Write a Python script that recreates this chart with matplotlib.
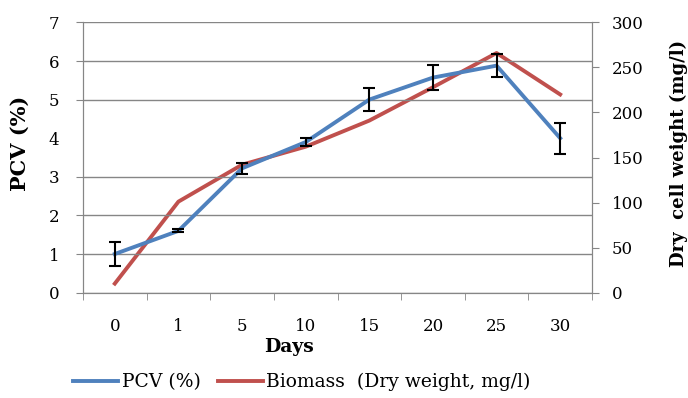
import numpy as np
import matplotlib.pyplot as plt

# ---------------------
# Data

days = ["0", "1", "5", "10", "15", "20", "25", "30"]

pcv = [1.0, 1.6, 3.22, 3.9, 5.0, 5.57, 5.88, 4.0]
pcv_err = [0.3, 0.04, 0.15, 0.1, 0.3, 0.33, 0.3, 0.4]

biomass = [10, 101, 142, 162, 191, 228, 266, 220]

blue = "#4F81BD"
red = "#C0504D"
grey = "#868686"

plt.rcParams['font.family'] = ['DejaVu Serif']

# ---------------------
# Figure

fig = plt.figure(figsize=(6.88, 3.98), dpi=100)
ax = fig.add_axes([83/688, 1 - 292.6/398, (592 - 83)/688, (292.6 - 22.4)/398])
ax2 = ax.twinx()

x = np.arange(len(days))

ax.plot(x, pcv, color=blue, lw=2.8, zorder=3, label="PCV (%)")
ax.errorbar(x, pcv, yerr=pcv_err, fmt="none", ecolor="black",
            elinewidth=1.5, capsize=4, capthick=1.5, zorder=4)
ax2.plot(x, biomass, color=red, lw=2.8, label="Biomass  (Dry weight, mg/l)")

ax.set_zorder(ax2.get_zorder() + 1)
ax.patch.set_visible(False)

ax.set_xlim(-0.5, len(days) - 0.5)
ax.set_ylim(0, 7)
ax2.set_ylim(0, 300)

ax.set_yticks(range(0, 8))
ax2.set_yticks(range(0, 301, 50))

ax.set_xticks(x)
ax.set_xticklabels(days)
ax.set_xticks(np.arange(-0.5, len(days)), minor=True)
ax.tick_params(axis="x", which="major", length=0, pad=18, labelsize=12)
ax.tick_params(axis="x", which="minor", length=5, color=grey, direction="out")
ax.tick_params(axis="y", length=5, color=grey, pad=12, labelsize=12)
ax2.tick_params(axis="y", length=5, color=grey, pad=9, labelsize=12)

ax.yaxis.grid(True, color=grey, lw=1)
ax.set_axisbelow(True)
# the 4 line is not drawn in the source chart
ax.get_ygridlines()[4].set_visible(False)
ax.yaxis.get_major_ticks()[4].tick1line.set_visible(False)

for a in (ax, ax2):
    a.spines["top"].set_visible(False)
    for s in ("left", "right", "bottom"):
        a.spines[s].set_color(grey)

fig.text(20/688, 1 - 143/398, "PCV (%)", rotation=90, ha="center", va="center",
         fontsize=15, fontweight="bold")
fig.text(679/688, 1 - 153/398, "Dry  cell weight (mg/l)", rotation=90,
         ha="center", va="center", fontsize=13, fontweight="bold")
fig.text(289/688, 1 - 347/398, "Days", ha="center", va="center",
         fontsize=13.5, fontweight="bold")

h1, l1 = ax.get_legend_handles_labels()
h2, l2 = ax2.get_legend_handles_labels()
fig.legend(h1 + h2, l1 + l2, loc="center", ncol=2, frameon=False,
           bbox_to_anchor=(302/688, 1 - 382/398), fontsize=13.5,
           handlelength=2.4, handletextpad=0.2, columnspacing=0.9)

fig.savefig("out.png", dpi=100)
